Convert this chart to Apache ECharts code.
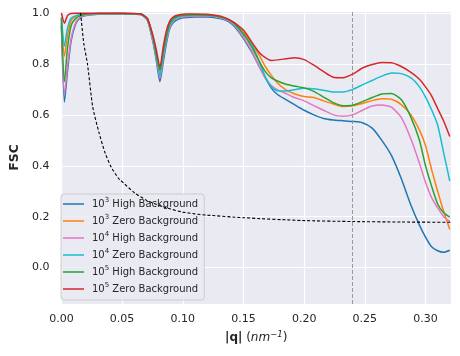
<!DOCTYPE html>
<html>
<head>
<meta charset="utf-8">
<script src="https://cdn.jsdelivr.net/npm/echarts@6/dist/echarts.min.js"></script>
<style>
  html, body { margin: 0; padding: 0; background: #fff; }
  #chart { width: 460px; height: 356px; }
</style>
</head>
<body>
<div id="chart"></div>
<script>
// q 网格 (nm^-1)，所有 FSC 曲线共用
const q = [0.000, 0.0025, 0.005, 0.008, 0.012, 0.016, 0.020, 0.025, 0.030, 0.040, 0.050, 0.060,
    0.066, 0.071, 0.0755, 0.078, 0.0812, 0.084, 0.0865, 0.089, 0.092, 0.097, 0.103, 0.110,
    0.120, 0.128, 0.134, 0.139, 0.143, 0.150, 0.157, 0.163, 0.168, 0.173, 0.178, 0.185,
    0.192, 0.200, 0.208, 0.216, 0.224, 0.232, 0.240, 0.248, 0.256, 0.264, 0.272, 0.280,
    0.288, 0.295, 0.300, 0.305, 0.310, 0.315, 0.320];

const names = ['10^3 High Background', '10^3 Zero Background', '10^4 High Background',
    '10^4 Zero Background', '10^5 High Background', '10^5 Zero Background'];
const colors = ['#1f77b4', '#ff7f0e', '#e377c2', '#17becf', '#2ca02c', '#d62728'];

const high3 = [0.95, 0.65, 0.77, 0.89, 0.96, 0.983, 0.99, 0.993, 0.995, 0.996, 0.996, 0.995,
    0.993, 0.97, 0.885, 0.82, 0.73, 0.81, 0.88, 0.935, 0.962, 0.977, 0.982, 0.984,
    0.984, 0.98, 0.974, 0.962, 0.945, 0.90, 0.845, 0.79, 0.745, 0.705, 0.68, 0.66,
    0.64, 0.618, 0.60, 0.586, 0.58, 0.577, 0.574, 0.569, 0.548, 0.50, 0.44, 0.35,
    0.245, 0.167, 0.12, 0.082, 0.066, 0.06, 0.068];
const zero3 = [0.98, 0.83, 0.91, 0.97, 0.988, 0.993, 0.995, 0.996, 0.997, 0.998, 0.998, 0.997,
    0.995, 0.975, 0.90, 0.84, 0.77, 0.84, 0.905, 0.95, 0.975, 0.987, 0.99, 0.991,
    0.99, 0.987, 0.98, 0.97, 0.96, 0.925, 0.88, 0.835, 0.79, 0.755, 0.725, 0.698,
    0.683, 0.672, 0.668, 0.655, 0.643, 0.633, 0.636, 0.645, 0.656, 0.663, 0.661, 0.64,
    0.60, 0.54, 0.48, 0.385, 0.30, 0.22, 0.15];
const high4 = [0.96, 0.68, 0.79, 0.90, 0.965, 0.985, 0.991, 0.994, 0.996, 0.997, 0.997, 0.996,
    0.994, 0.972, 0.89, 0.83, 0.745, 0.825, 0.89, 0.94, 0.968, 0.982, 0.986, 0.988,
    0.988, 0.984, 0.977, 0.966, 0.95, 0.905, 0.85, 0.79, 0.745, 0.715, 0.698, 0.684,
    0.668, 0.655, 0.636, 0.618, 0.60, 0.595, 0.60, 0.618, 0.635, 0.639, 0.63, 0.59,
    0.505, 0.41, 0.335, 0.275, 0.235, 0.20, 0.182];
const zero4 = [0.985, 0.87, 0.94, 0.98, 0.99, 0.994, 0.996, 0.997, 0.998, 0.998, 0.998, 0.997,
    0.995, 0.975, 0.90, 0.835, 0.755, 0.835, 0.90, 0.948, 0.972, 0.986, 0.99, 0.991,
    0.99, 0.987, 0.98, 0.97, 0.955, 0.915, 0.875, 0.81, 0.75, 0.71, 0.695, 0.694,
    0.699, 0.705, 0.703, 0.697, 0.69, 0.69, 0.70, 0.718, 0.735, 0.752, 0.764, 0.762,
    0.745, 0.71, 0.67, 0.62, 0.56, 0.45, 0.34];
const high5 = [0.975, 0.73, 0.86, 0.95, 0.98, 0.99, 0.995, 0.997, 0.998, 0.998, 0.998, 0.997,
    0.995, 0.976, 0.905, 0.845, 0.775, 0.85, 0.91, 0.955, 0.978, 0.989, 0.992, 0.993,
    0.992, 0.988, 0.981, 0.971, 0.958, 0.918, 0.865, 0.81, 0.77, 0.745, 0.733, 0.72,
    0.713, 0.706, 0.692, 0.67, 0.648, 0.636, 0.638, 0.652, 0.668, 0.682, 0.684, 0.66,
    0.59, 0.50, 0.40, 0.32, 0.25, 0.215, 0.198];
const zero5 = [1.0, 0.96, 0.99, 0.998, 0.999, 0.999, 0.999, 0.999, 0.999, 0.999, 0.999, 0.998,
    0.995, 0.978, 0.91, 0.86, 0.787, 0.87, 0.93, 0.965, 0.984, 0.993, 0.996, 0.996,
    0.995, 0.99, 0.983, 0.972, 0.96, 0.933, 0.885, 0.845, 0.825, 0.814, 0.816, 0.82,
    0.824, 0.817, 0.795, 0.77, 0.748, 0.746, 0.76, 0.784, 0.798, 0.806, 0.805, 0.79,
    0.767, 0.74, 0.71, 0.675, 0.625, 0.575, 0.515];

// 黑色虚线阈值曲线
const refQ = [0.0158, 0.0185, 0.0215, 0.0258, 0.031, 0.0361, 0.041, 0.0466, 0.0483, 0.0604,
    0.070, 0.080, 0.090, 0.100, 0.110, 0.120, 0.150, 0.198, 0.240, 0.280, 0.321];
const refFsc = [1.0, 0.879, 0.80, 0.631, 0.53, 0.449, 0.395, 0.353, 0.345, 0.293,
    0.265, 0.245, 0.23, 0.218, 0.211, 0.206, 0.196, 0.185, 0.181, 0.179, 0.178];

const cutoffQ = 0.2415;

const fscSets = [high3, zero3, high4, zero4, high5, zero5];

const textColor = '#262626';
// 图例只画一条短线 (四角的小点只用来撑开包围盒)
const lineIcon = 'path://M0,0h0.01v0.01h-0.01z M0,6.2h21v1.6h-21z M20.99,13.99h0.01v0.01h-0.01z';

function pairs(xs, ys) {
    return xs.map((x, i) => [x, ys[i]]);
}

function onStep(v, step) {
    const r = v / step;
    return Math.abs(r - Math.round(r)) < 1e-6;
}

const chart = echarts.init(document.getElementById('chart'), null, { renderer: 'canvas' });

const series = fscSets.map((ys, i) => ({
    name: names[i],
    type: 'line',
    data: pairs(q, ys),
    showSymbol: false,
    symbol: 'none',
    smooth: 0.2,
    lineStyle: { color: colors[i], width: 1.5 },
    itemStyle: { color: colors[i] },
    silent: true,
    z: 3 + i
}));

series.push({
    name: 'threshold',
    type: 'line',
    data: pairs(refQ, refFsc),
    symbol: 'none',
    smooth: 0.2,
    lineStyle: { color: '#000', width: 1.1, type: [3, 2] },
    silent: true,
    z: 10,
    markLine: {
        silent: true,
        symbol: ['none', 'none'],
        label: { show: false },
        lineStyle: { color: '#999', width: 1, type: [4, 2] },
        data: [{ xAxis: cutoffQ }]
    }
});

const option = {
    animation: false,
    backgroundColor: '#fff',
    color: colors,
    grid: {
        left: 56, right: 9, top: 11, bottom: 52,
        show: true,
        backgroundColor: '#EAEAF2',
        borderWidth: 0
    },
    xAxis: {
        type: 'value',
        min: 0,
        max: 0.321,
        interval: 0.05,
        axisLine: { show: false },
        axisTick: { show: false },
        splitLine: { lineStyle: { color: '#fff', width: 1.2 } },
        axisLabel: {
            color: textColor, fontSize: 11, margin: 10,
            fontFamily: 'DejaVu Sans',
            formatter: v => onStep(v, 0.05) ? v.toFixed(2) : ''
        },
        name: '{b||q|} {r|(}{i|nm}{s|−1}{r|)}',
        nameLocation: 'middle',
        nameGap: 26,
        nameTextStyle: {
            color: textColor,
            fontFamily: 'DejaVu Sans',
            rich: {
                b: { fontSize: 12, fontWeight: 'bold', color: textColor, fontFamily: 'DejaVu Sans', lineHeight: 16 },
                r: { fontSize: 12, color: textColor, fontFamily: 'DejaVu Sans', lineHeight: 16 },
                i: { fontSize: 12, fontStyle: 'italic', color: textColor, fontFamily: 'DejaVu Sans', lineHeight: 16 },
                s: { fontSize: 8.5, fontStyle: 'italic', color: textColor, fontFamily: 'DejaVu Sans', lineHeight: 10, verticalAlign: 'top' }
            }
        }
    },
    yAxis: {
        type: 'value',
        min: -0.143,
        max: 1.008,
        axisLine: { show: false },
        axisTick: { show: false },
        splitLine: { lineStyle: { color: '#fff', width: 1.2 } },
        axisLabel: {
            color: textColor, fontSize: 11, margin: 12,
            fontFamily: 'DejaVu Sans',
            formatter: v => onStep(v, 0.2) ? v.toFixed(1) : ''
        },
        name: 'FSC',
        nameLocation: 'middle',
        nameGap: 37,
        nameTextStyle: {
            color: textColor, fontSize: 12.5, fontWeight: 'bold', fontFamily: 'DejaVu Sans'
        }
    },
    legend: {
        data: names,
        left: 61,
        top: 194,
        orient: 'vertical',
        icon: lineIcon,
        itemWidth: 21,
        itemHeight: 14,
        itemGap: 3,
        padding: [3, 6, 4, 2],
        backgroundColor: 'rgba(234,234,242,0.8)',
        borderColor: '#cccccc',
        borderWidth: 1,
        borderRadius: 3,
        selectedMode: false,
        formatter: name => name.replace(/\^(\d)/, '{s|$1}'),
        textStyle: {
            color: textColor,
            fontSize: 10,
            fontFamily: 'DejaVu Sans',
            lineHeight: 14,
            padding: [0, 0, 0, 3],
            rich: {
                s: { fontSize: 7, fontFamily: 'DejaVu Sans', color: textColor, lineHeight: 9, verticalAlign: 'top' }
            }
        }
    },
    series: series
};

chart.setOption(option);
</script>
</body>
</html>
